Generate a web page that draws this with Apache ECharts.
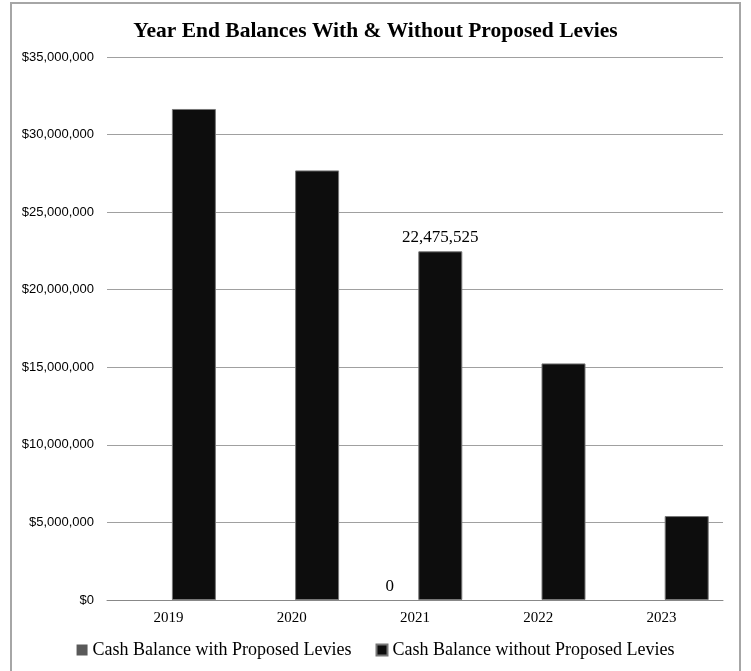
<!DOCTYPE html>
<html><head><meta charset="utf-8">
<script src="https://cdn.jsdelivr.net/npm/echarts@6/dist/echarts.min.js"></script>
<style>html,body{margin:0;padding:0;background:#fff}#c{width:751px;height:671px}</style>
</head><body><div id="c"></div>
<script>
const categories = ['2019','2020','2021','2022','2023'];
const withLevies = [0, 0, 0, 0, 0];
const withoutLevies = [31650000, 27690000, 22475525, 15250000, 5410000];
const labeledIndex = 2;
const yTicks = [0, 5000000, 10000000, 15000000, 20000000, 25000000, 30000000, 35000000];

const chart = echarts.init(document.getElementById('c'));
const serif = 'Liberation Serif';
const labelStyle = {show: true, position: 'top', fontFamily: serif, fontSize: 17, color: '#000',
  formatter: p => p.value.toLocaleString('en-US')};
function mk(arr){ return arr.map((v,i)=> i===labeledIndex ? {value:v, label: labelStyle} : v); }
chart.setOption({
  animation: false,
  backgroundColor: '#fff',
  graphic: [{type:'rect', shape:{x:11, y:3, width:729, height:680}, style:{fill:'none', stroke:'#a6a6a6', lineWidth:2}}],
  title: {text: 'Year End Balances With & Without Proposed Levies', left: 'center', top: 15,
    textStyle: {fontFamily: serif, fontWeight: 'bold', fontSize: 21.5, color: '#000'}},
  grid: {left: 107, right: 28, top: 57, bottom: 71},
  legend: {bottom: 7, left: 'center', itemWidth: 11, itemHeight: 11, itemGap: 24,
    textStyle: {fontFamily: serif, fontSize: 18, color: '#000'},
    data: [{name:'Cash Balance with Proposed Levies', icon:'rect'}, {name:'Cash Balance without Proposed Levies', icon:'rect'}]},
  xAxis: {type: 'category', data: categories,
    axisLine: {lineStyle: {color: '#888', width: 1}}, axisTick: {show: false},
    axisLabel: {fontFamily: serif, fontSize: 15, color: '#000', margin: 11}},
  yAxis: {type: 'value', min: yTicks[0], max: yTicks[yTicks.length-1], interval: 5000000,
    axisLine: {show: false}, axisTick: {show: false},
    splitLine: {lineStyle: {color: '#a0a0a0', width: 1}},
    axisLabel: {fontFamily: 'Liberation Sans', fontSize: 13, color: '#000', margin: 13,
      formatter: v => '$' + v.toLocaleString('en-US')}},
  series: [
    {name: 'Cash Balance with Proposed Levies', type: 'bar', data: mk(withLevies), barWidth: 44, barGap: '15%',
      itemStyle: {color: '#595959'}},
    {name: 'Cash Balance without Proposed Levies', type: 'bar', data: mk(withoutLevies), barWidth: 44,
      itemStyle: {color: '#0d0d0d', borderColor: '#777', borderWidth: 1}}
  ]
});
</script></body></html>
